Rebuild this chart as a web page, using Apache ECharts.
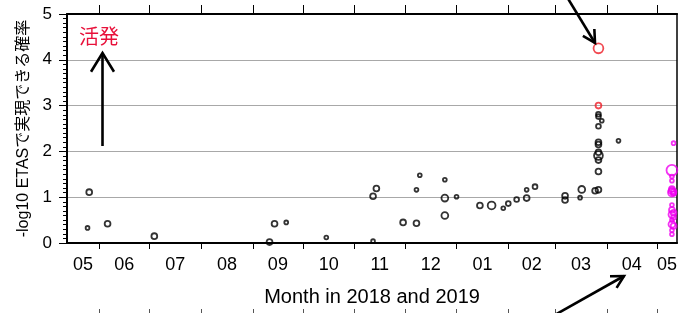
<!DOCTYPE html>
<html>
<head>
<meta charset="utf-8">
<script src="https://cdn.jsdelivr.net/npm/echarts@6/dist/echarts.min.js"></script>
<style>
html, body { margin: 0; padding: 0; background: #fff; }
#chart-container { width: 680px; height: 313px; }
</style>
</head>
<body>
<div id="chart-container"></div>
<script>
// dias contados a partir de 2018-05-01
var baseDate = '2018-05-01';
var xRange = [11.7, 377.1];
var monthStarts = ['2018-06-01', '2018-07-01', '2018-08-01', '2018-09-01', '2018-10-01', '2018-11-01',
    '2018-12-01', '2019-01-01', '2019-02-01', '2019-03-01', '2019-04-01', '2019-05-01'];
var monthLabels = ['05', '06', '07', '08', '09', '10', '11', '12', '01', '02', '03', '04', '05'];
var yTicks = [0, 1, 2, 3, 4, 5];

// [data, -log10 prob, diâmetro]
var blackPoints = [
    ['2018-05-26', 1.11, 7], ['2018-05-25', 0.33, 5], ['2018-06-06', 0.42, 7], ['2018-07-04', 0.15, 7],
    ['2018-09-11', 0.02, 7], ['2018-09-14', 0.42, 7], ['2018-09-21', 0.45, 5], ['2018-10-15', 0.12, 5],
    ['2018-11-12', 0.04, 5], ['2018-11-12', 1.02, 7], ['2018-11-14', 1.19, 7], ['2018-11-30', 0.45, 7],
    ['2018-12-08', 0.43, 7], ['2018-12-08', 1.16, 5], ['2018-12-10', 1.48, 5], ['2018-12-25', 0.60, 8],
    ['2018-12-25', 0.98, 8], ['2018-12-25', 1.38, 5], ['2019-01-01', 1.01, 5], ['2019-01-15', 0.82, 7],
    ['2019-01-22', 0.82, 9], ['2019-01-29', 0.76, 5], ['2019-02-01', 0.86, 6], ['2019-02-06', 0.95, 6],
    ['2019-02-12', 0.98, 7], ['2019-02-12', 1.16, 5], ['2019-02-17', 1.23, 6], ['2019-03-07', 0.94, 7],
    ['2019-03-07', 1.03, 7], ['2019-03-16', 0.99, 5], ['2019-03-17', 1.17, 8], ['2019-03-25', 1.14, 7],
    ['2019-03-27', 1.16, 7], ['2019-03-27', 1.56, 7], ['2019-03-27', 1.81, 7], ['2019-03-27', 1.91, 10],
    ['2019-03-27', 1.98, 7], ['2019-03-27', 2.15, 7], ['2019-03-27', 2.20, 7], ['2019-03-27', 2.55, 6],
    ['2019-03-27', 2.76, 6], ['2019-03-27', 2.81, 6], ['2019-03-29', 2.67, 5], ['2019-04-08', 2.23, 5]
];
var redPoints = [
    ['2019-03-27', 3.00, 7], ['2019-03-27', 4.25, 11]
];
var magentaPoints = [
    ['2019-05-11', 2.18, 5], ['2019-05-10', 1.59, 12], ['2019-05-10', 1.45, 5], ['2019-05-10', 1.36, 5],
    ['2019-05-10', 1.18, 7], ['2019-05-10', 1.14, 8], ['2019-05-11', 1.12, 7], ['2019-05-10', 1.10, 9],
    ['2019-05-11', 1.08, 6], ['2019-05-10', 0.83, 5], ['2019-05-10', 0.72, 7], ['2019-05-11', 0.66, 7],
    ['2019-05-10', 0.62, 8], ['2019-05-11', 0.56, 6], ['2019-05-10', 0.50, 5], ['2019-05-10', 0.41, 8],
    ['2019-05-11', 0.37, 7], ['2019-05-10', 0.28, 5], ['2019-05-10', 0.19, 5]
];

function toDay(d) {
    return (Date.parse(d) - Date.parse(baseDate)) / 86400000;
}

var tickDays = monthStarts.map(toDay);
var bounds = [xRange[0]].concat(tickDays, [xRange[1]]);
var labelDays = [];
for (var i = 0; i < bounds.length - 1; i++) {
    labelDays.push((bounds[i] + bounds[i + 1]) / 2);
}

function toData(points) {
    return points.map(function (p) { return [toDay(p[0]), p[1], p[2]]; });
}

function scatter(points, color) {
    return {
        type: 'scatter',
        xAxisIndex: 0,
        yAxisIndex: 0,
        data: toData(points),
        symbol: 'circle',
        symbolSize: function (v) { return v[2] - 1.2; },
        itemStyle: { color: 'rgba(0,0,0,0)', borderColor: color, borderWidth: 1.8 },
        emphasis: { disabled: true },
        z: 5
    };
}

// seta desenhada com linha + ponta
function arrow(x1, y1, x2, y2, head, spread) {
    var a = Math.atan2(y2 - y1, x2 - x1);
    var p1 = [x2 - head * Math.cos(a - spread), y2 - head * Math.sin(a - spread)];
    var p2 = [x2 - head * Math.cos(a + spread), y2 - head * Math.sin(a + spread)];
    var style = { stroke: '#000', lineWidth: 2.6, fill: null };
    return [
        { type: 'line', shape: { x1: x1, y1: y1, x2: x2, y2: y2 }, style: style, z: 20 },
        { type: 'polyline', shape: { points: [p1, [x2, y2], p2] }, style: style, z: 20 }
    ];
}

var font = '"Liberation Sans", Arial, "Noto Sans CJK JP", sans-serif';

var dom = document.getElementById('chart-container');
var myChart = echarts.init(dom, null, { renderer: 'canvas' });

var option = {
    animation: false,
    textStyle: { fontFamily: font },
    grid: { left: 67, right: 2, top: 14, bottom: 70 },
    xAxis: [
        {
            type: 'value',
            min: xRange[0],
            max: xRange[1],
            position: 'bottom',
            axisLine: { onZero: false, lineStyle: { color: '#000', width: 2 } },
            axisTick: { customValues: tickDays, length: 6, lineStyle: { color: '#000', width: 1 } },
            axisLabel: {
                customValues: labelDays,
                fontSize: 18,
                color: '#000',
                margin: 13,
                fontFamily: font,
                formatter: function (v) {
                    for (var k = 0; k < labelDays.length; k++) {
                        if (Math.abs(labelDays[k] - v) < 0.01) return monthLabels[k];
                    }
                    return '';
                }
            },
            splitLine: { show: false },
            name: 'Month in 2018 and 2019',
            nameLocation: 'middle',
            nameGap: 44,
            nameTextStyle: { fontSize: 20, color: '#000', fontFamily: font }
        },
        {
            type: 'value',
            min: xRange[0],
            max: xRange[1],
            position: 'top',
            axisLine: { onZero: false, lineStyle: { color: '#000', width: 2 } },
            axisTick: { customValues: tickDays, length: 9, lineStyle: { color: '#000', width: 1 } },
            axisLabel: { show: false },
            splitLine: { show: false }
        },
        {
            type: 'value',
            min: xRange[0],
            max: xRange[1],
            position: 'bottom',
            offset: 70,
            axisLine: { show: false, onZero: false },
            axisTick: { customValues: tickDays, inside: true, length: 4, lineStyle: { color: '#555', width: 1 } },
            axisLabel: { show: false },
            splitLine: { show: false }
        }
    ],
    yAxis: [
        {
            type: 'value',
            min: yTicks[0],
            max: yTicks[yTicks.length - 1],
            interval: 1,
            axisLine: { show: true, onZero: false, lineStyle: { color: '#000', width: 2 } },
            axisTick: { show: true, length: 8, lineStyle: { color: '#000', width: 1 } },
            minorTick: { show: true, splitNumber: 10, length: 4, lineStyle: { color: '#000', width: 1 } },
            axisLabel: { fontSize: 17, color: '#000', margin: 15, fontFamily: font },
            splitLine: { show: true, lineStyle: { color: '#a8a8a8', width: 1 } },
            name: '-log10 ETASで実現できる確率',
            nameLocation: 'middle',
            nameGap: 34,
            nameTextStyle: { fontSize: 16, color: '#000', fontFamily: font }
        },
        {
            type: 'value',
            min: yTicks[0],
            max: yTicks[yTicks.length - 1],
            position: 'right',
            axisLine: { show: true, onZero: false, lineStyle: { color: '#000', width: 1.5 } },
            axisTick: { show: false },
            axisLabel: { show: false },
            splitLine: { show: false }
        }
    ],
    series: [
        scatter(blackPoints, '#000'),
        scatter(redPoints, '#ee1c25'),
        scatter(magentaPoints, '#f000f0')
    ],
    graphic: [
        {
            type: 'text',
            left: 79,
            top: 26,
            style: { text: '活発', fill: '#e8103a', fontSize: 20, fontFamily: '"Noto Sans CJK JP", sans-serif' },
            z: 20
        }
    ].concat(
        arrow(102.5, 146, 102.5, 53, 22, 0.55),
        arrow(567, -3, 595, 43, 14, 0.5),
        arrow(553, 316, 624, 276, 14, 0.5)
    )
};

myChart.setOption(option);

window.addEventListener('resize', function () {
    myChart.resize();
});
</script>
</body>
</html>
